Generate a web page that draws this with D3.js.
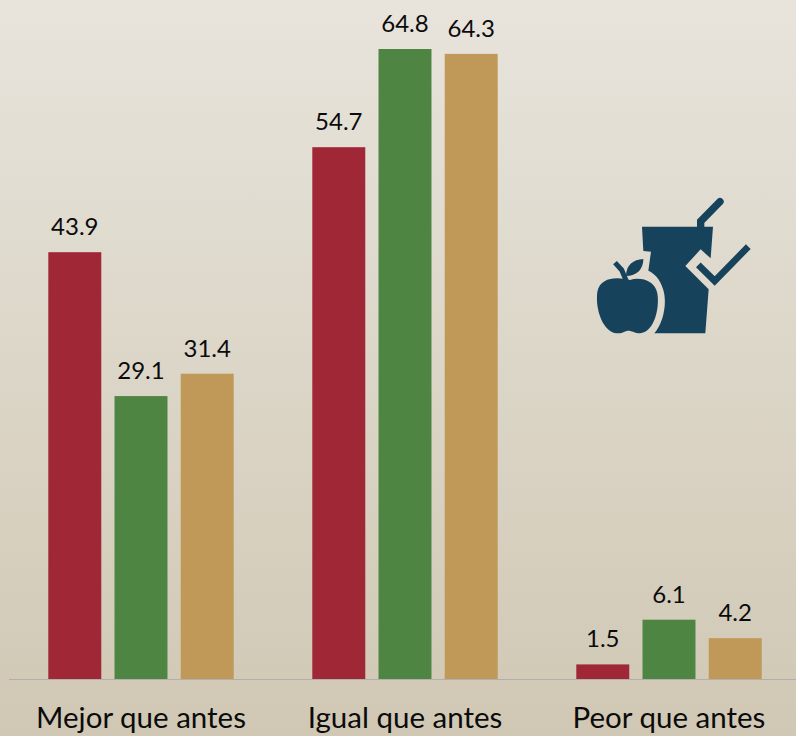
<!DOCTYPE html>
<html>
<head>
<meta charset="utf-8">
<script src="https://cdn.jsdelivr.net/npm/d3@7"></script>
<style>
  html, body { margin: 0; padding: 0; overflow: hidden; }
  text { font-family: Lato, sans-serif; fill: #0b0b0b; }
</style>
</head>
<body>
<div id="chart"></div>
<script>
const categories = ['Mejor que antes', 'Igual que antes', 'Peor que antes'];
const series = ['a', 'b', 'c'];
const seriesA = [43.9, 54.7, 1.5];
const seriesB = [29.1, 64.8, 6.1];
const seriesC = [31.4, 64.3, 4.2];
const colors = ['#a02736', '#4f8543', '#c09858'];

const width = 796,
  height = 736;
const baseline = 679;

const rows = categories.map((c, i) => ({
  category: c,
  values: [seriesA[i], seriesB[i], seriesC[i]],
}));

const svg = d3
  .select('#chart')
  .append('svg')
  .attr('width', width)
  .attr('height', height)
  .style('display', 'block');

// fondo degradado
const grad = svg
  .append('defs')
  .append('linearGradient')
  .attr('id', 'bg')
  .attr('x1', 0)
  .attr('y1', 0)
  .attr('x2', 0)
  .attr('y2', 1);
grad.append('stop').attr('offset', '0%').attr('stop-color', '#e8e4dc');
grad.append('stop').attr('offset', '100%').attr('stop-color', '#d0c8b4');
svg
  .append('rect')
  .attr('width', width)
  .attr('height', height)
  .attr('fill', 'url(#bg)');

const x0 = d3.scaleBand().domain(categories).range([9, 801]);
const x1 = d3
  .scaleBand()
  .domain(series)
  .range([39.3, 224.7])
  .paddingInner(0.2);
const y = d3.scaleLinear().domain([0, 64.8]).range([baseline, 49]);
const color = d3.scaleOrdinal().domain(series).range(colors);

const groups = svg
  .selectAll('g.group')
  .data(rows)
  .join('g')
  .attr('class', 'group')
  .attr('transform', (d) => `translate(${x0(d.category)},0)`);

groups
  .selectAll('rect')
  .data((d) => d.values.map((v, i) => ({ key: series[i], v })))
  .join('rect')
  .attr('x', (d) => x1(d.key))
  .attr('y', (d) => y(d.v))
  .attr('width', x1.bandwidth())
  .attr('height', (d) => baseline - y(d.v))
  .attr('fill', (d) => color(d.key));

groups
  .selectAll('text')
  .data((d) => d.values.map((v, i) => ({ key: series[i], v })))
  .join('text')
  .attr('x', (d) => x1(d.key) + x1.bandwidth() / 2)
  .attr('y', (d) => y(d.v) - 17)
  .attr('text-anchor', 'middle')
  .attr('font-size', 24)
  .text((d) => d.v.toFixed(1));

// eje x
const axis = svg
  .append('g')
  .attr('transform', `translate(0,${baseline})`)
  .call(d3.axisBottom(x0).tickSize(0).tickPadding(28));
axis.select('.domain').attr('stroke', '#b0aeb2').attr('d', 'M9,0.5H796');
axis
  .selectAll('text')
  .attr('font-size', 29.5)
  .attr('font-family', 'Lato, sans-serif')
  .attr('fill', '#0b0b0b');

// icono
const icon = svg
  .append('g')
  .attr('transform', 'translate(580,180) scale(0.3333)')
  .attr('fill', '#16425b');
icon
  .append('path')
  .attr(
    'd',
    'M186,140 L399,140 L392,235 L362,208 L316,258 L386,328 L376,460 L223,460 C250,430 262,370 250,330 C240,295 222,280 205,272 L213,215 L190,213 Z',
  );
icon
  .append('path')
  .attr('d', 'M362,142 L362,124 L420,65')
  .attr('fill', 'none')
  .attr('stroke', '#16425b')
  .attr('stroke-width', 22)
  .attr('stroke-linecap', 'round');
icon
  .append('path')
  .attr('d', 'M355,255 L404,303 L505,200')
  .attr('fill', 'none')
  .attr('stroke', '#16425b')
  .attr('stroke-width', 20);
icon
  .append('path')
  .attr(
    'd',
    'M135,298 C105,290 60,295 52,335 C45,390 70,460 115,460 C130,460 135,452 145,452 C155,452 165,460 180,460 C220,458 240,390 232,340 C225,300 180,290 150,300 Z',
  );
icon
  .append('path')
  .attr('d', 'M105,248 L125,270 L140,305')
  .attr('fill', 'none')
  .attr('stroke', '#16425b')
  .attr('stroke-width', 15);
icon
  .append('path')
  .attr('d', 'M138,288 C138,255 160,238 190,237 C190,268 170,288 138,288 Z');
</script>
</body>
</html>
